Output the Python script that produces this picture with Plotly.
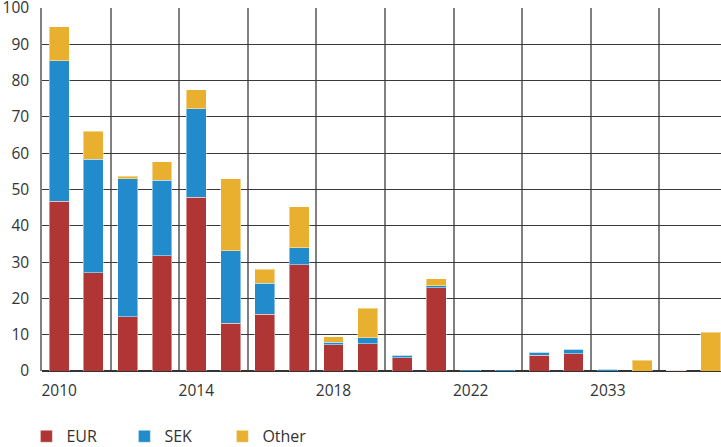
import plotly.graph_objects as go

# values per period, stacked: EUR, SEK, Other
eur = [46.7, 27.0, 14.9, 31.7, 47.9, 13.1, 15.7, 29.3, 7.2, 7.5,
       3.6, 23.0, 0.0, 0.0, 4.3, 4.7, 0.0, 0.0, 0.2, 0.0]
sek = [38.8, 31.4, 38.0, 20.8, 24.4, 20.0, 8.5, 4.6, 0.7, 1.6,
       0.8, 0.5, 0.3, 0.3, 0.9, 1.3, 0.5, 0.0, 0.0, 0.0]
other = [9.4, 7.7, 0.8, 5.1, 5.2, 19.8, 3.9, 11.3, 1.6, 8.2,
         0.0, 1.9, 0.0, 0.0, 0.0, 0.0, 0.0, 2.9, 0.0, 10.7]

tick_positions = [0, 4, 8, 12, 16]
tick_labels = ["2010", "2014", "2018", "2022", "2033"]
y_ticks = list(range(0, 101, 10))

FONT = "Open Sans"
x = list(range(len(eur)))

fig = go.Figure()
for name, values, color in (
    ("EUR", eur, "#B03636"),
    ("SEK", sek, "#218BCC"),
    ("Other", other, "#E9AF2E"),
):
    fig.add_bar(
        x=x,
        y=values,
        name=name,
        marker=dict(color=color, line=dict(color="rgba(255,255,255,0.45)", width=1)),
    )

fig.update_layout(
    barmode="stack",
    bargap=0.42,
    width=721,
    height=447,
    margin=dict(l=42, r=0, t=8, b=76, autoexpand=False),
    plot_bgcolor="white",
    paper_bgcolor="white",
    font=dict(family=FONT, size=15.5, color="#333333"),
    showlegend=True,
    legend=dict(
        orientation="h",
        x=-0.023,
        xanchor="left",
        y=-0.18,
        yanchor="middle",
        font=dict(size=16, color="#333333"),
        entrywidth=53,
        traceorder="normal",
    ),
)
fig.update_xaxes(
    range=[-0.5, 19.3],
    automargin=False,
    tickvals=tick_positions,
    ticktext=tick_labels,
    showgrid=False,
    ticks="",
    ticklabelstandoff=8,
    showline=False,
    zeroline=False,
    minor=dict(
        tickvals=[i + 0.5 for i in range(1, len(eur), 2)],
        showgrid=True,
        gridcolor="#808080",
        gridwidth=1.5,
    ),
)
fig.update_yaxes(
    range=[0, 100],
    automargin=False,
    tickvals=y_ticks,
    ticklabeloverflow="allow",
    showgrid=True,
    gridcolor="#3a3a3a",
    gridwidth=1.3,
    zeroline=True,
    zerolinecolor="#333333",
    zerolinewidth=2,
    showline=True,
    linecolor="#808080",
    linewidth=1.5,
    ticks="",
    ticklabelstandoff=8,
)

fig.write_html(
    "out.html",
    config={"displayModeBar": False},
    post_script="document.body.style.margin = '0';",
)
